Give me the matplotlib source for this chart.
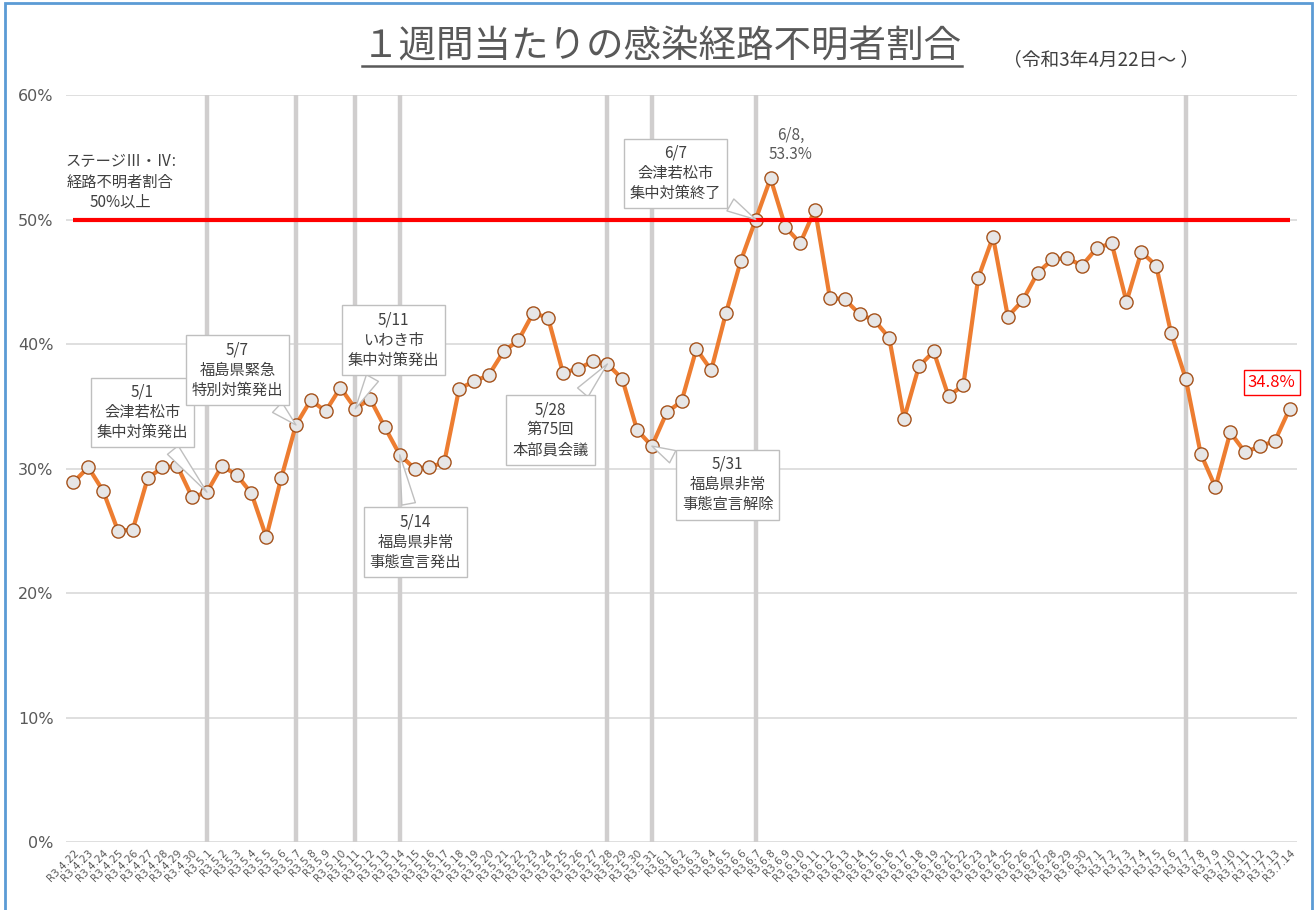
import matplotlib
matplotlib.use("Agg")
import matplotlib.pyplot as plt
import pandas as pd
from matplotlib.ticker import FuncFormatter, MultipleLocator
from matplotlib.patches import Rectangle
from matplotlib.lines import Line2D

plt.rcParams['font.family'] = ['Noto Sans CJK JP', 'DejaVu Sans']

# --- data ---
# daily points R3.4.22 - R3.7.14 (6/20 has no point)
dates = [d for d in pd.date_range("2021-04-22", "2021-07-14") if d != pd.Timestamp("2021-06-20")]
tick_labels = [f"R3.{d.month}.{d.day}" for d in dates]

# weekly share of cases with unknown infection route (%)
unknown_ratio = [
    28.9, 30.1, 28.2, 25.0, 25.1, 29.2, 30.1, 30.2, 27.7,
    28.1, 30.2, 29.5, 28.0, 24.5, 29.2, 33.5, 35.5, 34.6, 36.5,
    34.8, 35.6, 33.3, 31.1, 30.0, 30.1, 30.5, 36.4, 37.0, 37.5,
    39.4, 40.3, 42.5, 42.1, 37.7, 38.0, 38.6, 38.4, 37.2, 33.1, 31.8,
    34.5, 35.4, 39.6, 37.9, 42.5, 46.7, 50.0, 53.3, 49.4, 48.1,
    50.8, 43.7, 43.6, 42.4, 41.9, 40.5, 34.0, 38.2, 39.4, 35.8,
    36.7, 45.3, 48.6, 42.2, 43.5, 45.7, 46.8, 46.9, 46.3, 47.7,
    48.1, 43.4, 47.4, 46.3, 40.9, 37.2, 31.2, 28.5, 32.9, 31.3,
    31.8, 32.2, 34.8,
]
threshold = 50
event_dates = ["R3.5.1", "R3.5.7", "R3.5.11", "R3.5.14", "R3.5.28", "R3.5.31", "R3.6.7", "R3.7.7"]

# --- figure ---
fig = plt.figure(figsize=(13.16, 9.1), dpi=100)
ax = fig.add_axes([0.0502, 0.0747, 0.9354, 0.8209])
x = list(range(len(unknown_ratio)))

ax.set_xlim(-0.5, len(x) - 0.5)
ax.set_ylim(0, 60)
ax.yaxis.set_major_locator(MultipleLocator(10))
ax.yaxis.set_major_formatter(FuncFormatter(lambda v, p: f"{v:.0f}%"))
ax.grid(axis="y", color="#D9D9D9", lw=1.2, zorder=0)
ax.set_axisbelow(True)
for s in ax.spines.values():
    s.set_visible(False)

ax.set_xticks(x)
ax.set_xticklabels(tick_labels, rotation=45, ha="right", rotation_mode="anchor",
                   fontsize=7.5, color="#595959", family="DejaVu Sans")
ax.tick_params(axis="x", length=0, pad=4)
ax.tick_params(axis="y", length=0, pad=9, labelsize=11.5, labelcolor="#595959")
for lbl in ax.get_yticklabels():
    lbl.set_family("DejaVu Sans")

# event lines
for ev in event_dates:
    ax.axvline(tick_labels.index(ev), color="#D0CECE", lw=3.2, zorder=1)

# series
ax.plot(x, unknown_ratio, color="#ED7D31", lw=3, zorder=3)
ax.plot(x, unknown_ratio, ls="none", marker="o", ms=9.5, mfc="#E7E6E6",
        mec="#A5521B", mew=1, zorder=4)
ax.hlines(threshold, x[0], x[-1], color="#FF0000", lw=3, zorder=5)

# callouts
callouts = [
    ("5/1\n会津若松市\n集中対策発出", "R3.5.1", (4.65, 34.5)),
    ("5/7\n福島県緊急\n特別対策発出", "R3.5.7", (11.06, 37.9)),
    ("5/11\nいわき市\n集中対策発出", "R3.5.11", (21.58, 40.3)),
    ("5/14\n福島県非常\n事態宣言発出", "R3.5.14", (23.06, 24.1)),
    ("5/28\n第75回\n本部員会議", "R3.5.28", (32.16, 33.1)),
    ("5/31\n福島県非常\n事態宣言解除", "R3.5.31", (44.1, 28.7)),
    ("6/7\n会津若松市\n集中対策終了", "R3.6.7", (40.6, 53.7)),
]
for text, day, pos in callouts:
    i = tick_labels.index(day)
    ax.annotate(text, xy=(i, unknown_ratio[i]), xytext=pos, ha="center", va="center",
                fontsize=11, color="#404040", linespacing=1.25, zorder=6,
                bbox=dict(boxstyle="square,pad=0.4", fc="white", ec="#BFBFBF", lw=1),
                arrowprops=dict(arrowstyle="wedge,tail_width=0.9,shrink_factor=0.5",
                                fc="white", ec="#BFBFBF", lw=1, shrinkB=0))

peak = unknown_ratio.index(max(unknown_ratio))
ax.text(peak + 1.35, max(unknown_ratio) + 2.7, f"6/8,\n{max(unknown_ratio):.1f}%",
        ha="center", va="center", fontsize=11, color="#595959", linespacing=1.2, zorder=6)

ax.text(x[-1] - 1.2, unknown_ratio[-1] + 2.1, f"{unknown_ratio[-1]:.1f}%", ha="center",
        va="center", fontsize=12, color="#FF0000", zorder=6,
        bbox=dict(boxstyle="square,pad=0.25", fc="white", ec="#FF0000", lw=1))

ax.text(3.17, 53.0, "ステージⅢ・Ⅳ:\n経路不明者割合\n50%以上", ha="center", va="center",
        fontsize=11, color="#404040", linespacing=1.25, zorder=6)

# title
title = fig.text(0.503, 0.948, "１週間当たりの感染経路不明者割合", ha="center", va="center",
                 fontsize=27, color="#595959")
fig.text(0.837, 0.934, "（令和3年4月22日～ ）", ha="center", va="center",
         fontsize=13.5, color="#404040")
fig.canvas.draw()
bb = title.get_window_extent().transformed(fig.transFigure.inverted())
fig.add_artist(Line2D([bb.x0, bb.x1], [bb.y0 + 0.001, bb.y0 + 0.001],
                      color="#595959", lw=1.8, transform=fig.transFigure))

# outer frame
fig.add_artist(Rectangle((0.004, -0.05), 0.993, 1.047, transform=fig.transFigure,
                         fill=False, ec="#5B9BD5", lw=2))

fig.savefig("out.png", dpi=100)
